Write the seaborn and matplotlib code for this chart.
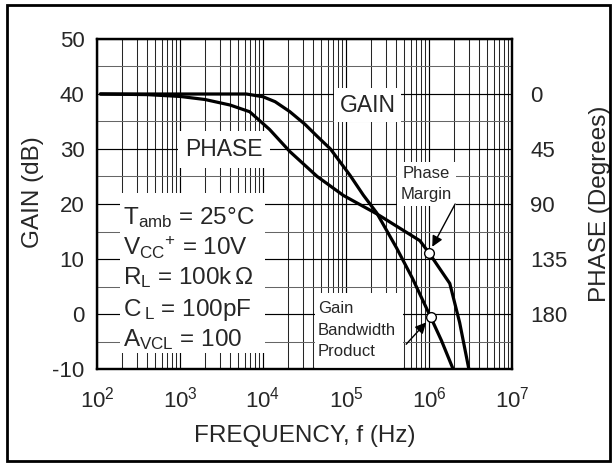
import numpy as np
import pandas as pd
import matplotlib
matplotlib.use("Agg")
import matplotlib.pyplot as plt
import seaborn as sns
from matplotlib.ticker import LogLocator, MultipleLocator, NullFormatter, FixedLocator
from matplotlib.patches import Rectangle

# ---- data ----
gain_freq_hz = [110, 6300, 10000, 14000, 21000, 32000, 45000, 65000, 112000,
                162000, 234000, 407000, 631000, 1050000, 1410000, 1950000]
gain_db = [40, 40, 39.5, 38.6, 36.8, 34.5, 32.3, 30.0, 25.2,
           21.6, 18.4, 12.0, 6.5, -0.6, -4.8, -10.0]

phase_freq_hz = [110, 400, 1000, 2000, 4000, 6900, 12000, 21000, 45000,
                 93000, 234000, 776000, 1000000, 1780000, 2340000, 3020000]
phase_deg = [0, 0.5, 2, 4.5, 9, 14.5, 29, 47, 67.5,
             83, 98, 120, 130, 155, 187, 225]

phase_margin_freq = [1.0e6]
phase_margin_deg = [130]
gbp_freq = [1.05e6]
gbp_db = [-0.6]

gain_ticks = [-10, 0, 10, 20, 30, 40, 50]
phase_ticks = [0, 45, 90, 135, 180]
conditions = [r"T$_{\mathrm{amb}}$ = 25°C",
              r"V$_{\mathrm{CC}}$$^{+}$ = 10V",
              r"R$_{\mathrm{L}}$ = 100k$\,$Ω",
              r"C$\,_{\mathrm{L}}$ = 100pF",
              r"A$_{\mathrm{VCL}}$ = 100"]

gain_df = pd.DataFrame({"freq": gain_freq_hz, "gain": gain_db})
phase_df = pd.DataFrame({"freq": phase_freq_hz, "phase": phase_deg})

sns.set_theme(style="white")
plt.rcParams["font.family"] = ["Liberation Sans", "DejaVu Sans"]
plt.rcParams["mathtext.fontset"] = "custom"
plt.rcParams["mathtext.rm"] = "Liberation Sans"
plt.rcParams["mathtext.it"] = "Liberation Sans:italic"
plt.rcParams["mathtext.bf"] = "Liberation Sans:bold"
plt.rcParams["mathtext.default"] = "regular"
plt.rcParams["axes.unicode_minus"] = False

fig = plt.figure(figsize=(6.15, 4.65), dpi=100)
ax = fig.add_axes([97/615, 1-369/465, 415/615, 330/465])
ax2 = ax.twinx()

ax.set_xscale("log")
ax.set_xlim(1e2, 1e7)
ax.set_ylim(-10, 50)
ax2.set_ylim(225, -45)

# grid
ax.xaxis.set_major_locator(LogLocator(base=10, numticks=10))
ax.xaxis.set_minor_locator(LogLocator(base=10, subs=np.arange(2, 10), numticks=20))
ax.xaxis.set_minor_formatter(NullFormatter())
ax.yaxis.set_major_locator(FixedLocator(gain_ticks))
ax.yaxis.set_minor_locator(MultipleLocator(5))
ax.grid(which="major", axis="both", color="black", lw=0.85, zorder=0.5)
ax.grid(which="minor", axis="x", color="0.15", lw=0.75, zorder=0.5)
ax.grid(which="minor", axis="y", color="0.4", lw=0.75, zorder=0.5)
ax.set_axisbelow(True)

sns.lineplot(data=gain_df, x="freq", y="gain", ax=ax, color="black", lw=2.3,
             zorder=4, sort=False)
sns.lineplot(data=phase_df, x="freq", y="phase", ax=ax2, color="black", lw=2.3,
             zorder=4, sort=False)
ax2.plot(phase_margin_freq, phase_margin_deg, "o", ms=7, mfc="white", mec="black",
         mew=1.0, zorder=6)
ax2.plot(gbp_freq, [(40 - g) * 4.5 for g in gbp_db], "o", ms=7, mfc="white",
         mec="black", mew=1.0, zorder=6)

ax2.yaxis.set_major_locator(FixedLocator(phase_ticks))
ax2.set_yticklabels([str(p) for p in phase_ticks])

for a in (ax, ax2):
    a.tick_params(which="both", length=0, labelsize=16)
    a.set_xlabel("")
    a.set_ylabel("")
    for s in a.spines.values():
        s.set_color("black")
        s.set_linewidth(1.6)
ax.tick_params(axis="y", pad=9)
ax.tick_params(axis="x", pad=13)
ax2.tick_params(axis="y", pad=13)

ax.set_xlabel("FREQUENCY, f (Hz)", fontsize=17.5, labelpad=9)
ax.set_ylabel("GAIN (dB)", fontsize=17.5)
ax2.set_ylabel("PHASE (Degrees)", fontsize=17.5)
ax.yaxis.set_label_coords(-0.128, 0.535)
ax2.yaxis.set_label_coords(1.185, 0.5)

ax.text(0.652, 0.80, "GAIN", transform=ax.transAxes, fontsize=16.5,
        ha="center", va="center", bbox=dict(facecolor="white", edgecolor="none", pad=4), zorder=3)
ax.text(0.306, 0.665, "PHASE", transform=ax.transAxes, fontsize=16.5,
        ha="center", va="center", bbox=dict(facecolor="white", edgecolor="none", pad=5), zorder=3)

# conditions block
ax.add_patch(Rectangle((23/415, 1-(353-39)/330), 145/415, 160/330, transform=ax.transAxes,
                       facecolor="white", edgecolor="none", zorder=3))
cond_y = [218, 248, 278, 310, 340]
for txt, yp in zip(conditions, cond_y):
    ax.text(26/415, 1-(yp-39)/330, txt, transform=ax.transAxes, fontsize=17.5,
            ha="left", va="center", zorder=3.5)

ax.text(0.794, 1-(184-39)/330, "Phase\nMargin", transform=ax.transAxes, fontsize=12,
        ha="center", va="center", linespacing=1.5,
        bbox=dict(facecolor="white", edgecolor="none", pad=3), zorder=3)
ax.add_patch(Rectangle((218/415, 0), 88/415, 76/330, transform=ax.transAxes,
                       facecolor="white", edgecolor="none", zorder=3))
ax.text(221/415, 1-(330-39)/330, "Gain\nBandwidth\nProduct", transform=ax.transAxes,
        fontsize=12, ha="left", va="center", linespacing=1.55, zorder=3.5)

arrow = dict(arrowstyle="-|>", color="black", lw=1.0, mutation_scale=16,
             shrinkA=0, shrinkB=5)
ax2.annotate("", xy=(phase_margin_freq[0], phase_margin_deg[0]),
             xytext=(0.863, 0.50), textcoords="axes fraction",
             arrowprops=arrow, zorder=7)
ax2.annotate("", xy=(gbp_freq[0], (40 - gbp_db[0]) * 4.5),
             xytext=(0.745, 0.075), textcoords="axes fraction",
             arrowprops=arrow, zorder=7)

# outer frame
fig.patches.append(Rectangle((7/615, 4/465), 603/615, 456/465, transform=fig.transFigure,
                             facecolor="none", edgecolor="black", lw=2.0))

fig.savefig("out.png", dpi=100)
